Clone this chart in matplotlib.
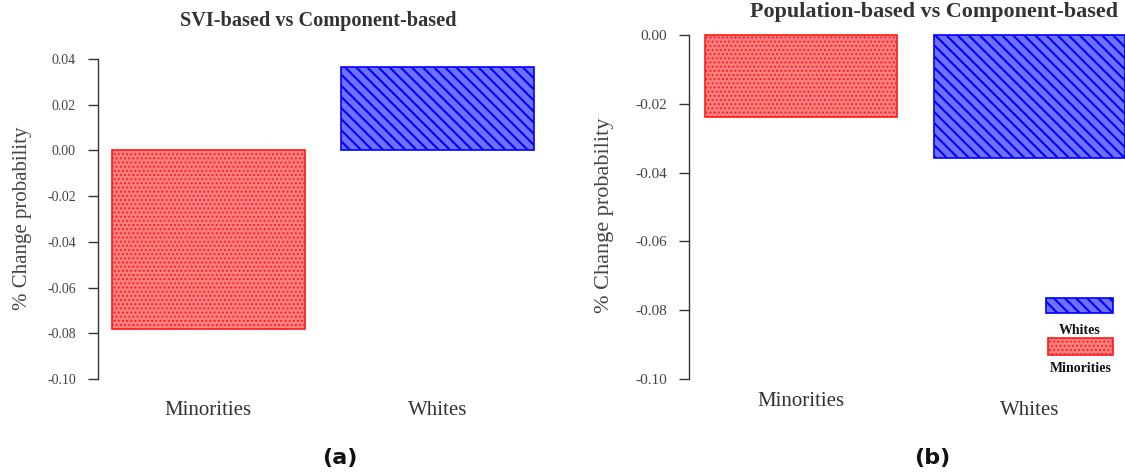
import matplotlib
matplotlib.use("Agg")
import matplotlib.pyplot as plt
from matplotlib.patches import Rectangle

plt.rcParams["font.family"] = ["Liberation Serif", "DejaVu Serif"]

# data
groups = ["Minorities", "Whites"]
svi_vals = [-0.078, 0.0367]
pop_vals = [-0.0238, -0.0358]
svi_ticks = [0.04, 0.02, 0.00, -0.02, -0.04, -0.06, -0.08, -0.10]
pop_ticks = [0.00, -0.02, -0.04, -0.06, -0.08, -0.10]
titles = ["SVI-based vs Component-based", "Population-based vs Component-based"]
panel_tags = ["(a)", "(b)"]
legend_labels = ["Whites", "Minorities"]
ylab = "% Change probability"

RED_FACE, RED_EDGE = "#ff8080", "#ff1a1a"
BLUE_FACE, BLUE_EDGE = "#7070ff", "#0000ff"
INK, MUTE = "#333333", "#444444"
W, H = 1125, 476
# (face, edge, hatch, hatch linewidth) for Minorities, Whites
STY = [(RED_FACE, RED_EDGE, "....", 0.9), (BLUE_FACE, BLUE_EDGE, "\\\\\\", 1.5)]

fig = plt.figure(figsize=(W / 100, H / 100), dpi=100)

def px(x0, y0, x1, y1):
    return [x0 / W, 1 - y1 / H, (x1 - x0) / W, (y1 - y0) / H]

def ftext(x, y, s, **kw):
    fig.text(x / W, 1 - y / H, s, ha="center", va="center", **kw)

def bars(ax, vals):
    for i, (v, (fc, ec, ht, hl)) in enumerate(zip(vals, STY)):
        with plt.rc_context({"hatch.linewidth": hl}):
            ax.bar(i, v, 0.84, color=fc, edgecolor=ec, hatch=ht, lw=1.2, zorder=2, clip_on=False)

def style(ax, ticks, lo, hi, fs):
    ax.set_ylim(lo, hi)
    ax.set_yticks(ticks)
    ax.set_yticklabels([f"{t:.2f}" for t in ticks], fontsize=fs, color=MUTE)
    for s in ("top", "right", "bottom"):
        ax.spines[s].set_visible(False)
    ax.spines["left"].set_color(INK)
    ax.spines["left"].set_linewidth(1.0)
    ax.tick_params(axis="y", length=7, width=1.0, color=INK, pad=9)
    ax.set_xticks([])
    ax.patch.set_alpha(0)

# (a)
axA = fig.add_axes(px(98, 59, 552, 379))
bars(axA, svi_vals)
axA.set_xlim(-0.4815, 1.5)
style(axA, svi_ticks, -0.10, 0.04, 10)
ftext(23, 218, ylab, rotation=90, fontsize=15, color=MUTE)
for i, g in enumerate(groups):
    axA.text(i, -0.1139, g, ha="center", va="center", fontsize=15, color=INK)
ftext(318, 21, titles[0], fontsize=14.6, fontweight="bold", color=INK)
ftext(340, 458, panel_tags[0], fontsize=16, fontweight="bold", color="#111111",
      family="DejaVu Sans")

# (b)
axB = fig.add_axes(px(689, 35, 1125, 379))
bars(axB, pop_vals)
axB.set_xlim(-0.49, 1.418)
style(axB, pop_ticks, -0.10, 0.0, 11)
ftext(605, 215, ylab, rotation=90, fontsize=16, color=MUTE)
cat_y = [-0.1066, -0.1093]
for i, g in enumerate(groups):
    axB.text(i, cat_y[i], g, ha="center", va="center", fontsize=15, color=INK)
ftext(934, 12, titles[1], fontsize=15.9, fontweight="bold", color=INK)
ftext(932, 458, panel_tags[1], fontsize=16, fontweight="bold", color="#111111",
      family="DejaVu Sans")

# legend drawn by hand: patch above label
leg = [(1046, 298, 1113, 313, 330, STY[1]), (1048, 338, 1113, 355, 369, STY[0])]
for (x0, y0, x1, y1, ty, (fc, ec, ht, hl)), lab in zip(leg, legend_labels):
    with plt.rc_context({"hatch.linewidth": hl}):
        fig.patches.append(Rectangle((x0 / W, 1 - y1 / H), (x1 - x0) / W, (y1 - y0) / H,
                                     transform=fig.transFigure, facecolor=fc, edgecolor=ec,
                                     hatch=ht, lw=1.2))
    ftext((x0 + x1) / 2, ty, lab, fontsize=10, fontweight="bold", color="#111111")

fig.savefig("out.png", dpi=100)
